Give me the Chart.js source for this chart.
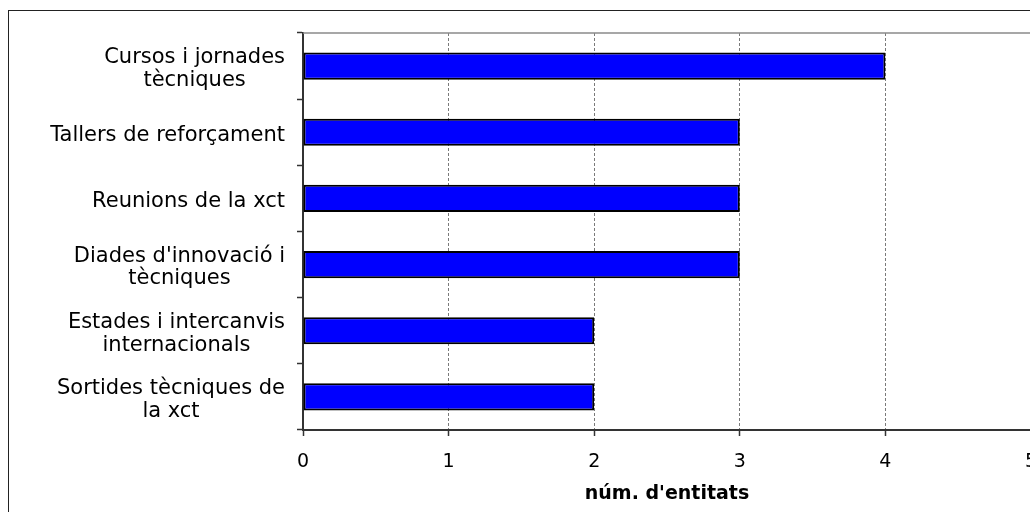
<!DOCTYPE html>
<html>
<head>
<meta charset="utf-8">
<script src="https://cdn.jsdelivr.net/npm/chart.js@4/dist/chart.umd.min.js"></script>
<style>
    html, body { margin: 0; padding: 0; background: #fff; overflow: hidden; }
    #frame {
        position: absolute;
        left: 8px;
        top: 10px;
        width: 1100px;
        height: 540px;
        border: 1px solid #222;
        background: #fff;
    }
    #entitatsChart { display: block; }
</style>
</head>
<body>
<div id="frame">
    <canvas id="entitatsChart" width="1060" height="520"></canvas>
</div>
<script>
// Activitats (each label split into the lines it is drawn on)
const categories = [
    ["Cursos i jornades", "tècniques"],
    ["Tallers de reforçament"],
    ["Reunions de la xct"],
    ["Diades d'innovació i", "tècniques"],
    ["Estades i intercanvis", "internacionals"],
    ["Sortides tècniques de", "la xct"]
];
const entitats = [4, 3, 3, 3, 2, 2];
const xTicks = [0, 1, 2, 3, 4, 5];
const xTitle = "núm. d'entitats";

const FONT = "'DejaVu Sans', Verdana, sans-serif";

// Category labels: block right aligned against the axis, lines centred inside the block
const categoryLabels = {
    id: 'categoryLabels',
    afterDraw(chart) {
        const ctx = chart.ctx;
        const yScale = chart.scales.y;
        const rightX = chart.chartArea.left - 18;
        const lineHeight = 22.5;

        ctx.save();
        ctx.font = "21px " + FONT;
        ctx.fillStyle = "#000";
        ctx.textAlign = "center";
        ctx.textBaseline = "alphabetic";

        categories.forEach((lines, i) => {
            const blockWidth = Math.max(...lines.map(l => ctx.measureText(l).width));
            const cx = rightX - blockWidth / 2;
            const cy = yScale.getPixelForValue(i);
            lines.forEach((line, j) => {
                const ty = cy + (j - (lines.length - 1) / 2) * lineHeight + 8.5;
                ctx.fillText(line, cx, ty);
            });
        });
        ctx.restore();
    }
};

// Thin grey line closing the top of the plot area
const plotTop = {
    id: 'plotTop',
    beforeDatasetsDraw(chart) {
        const { ctx, chartArea } = chart;
        ctx.save();
        ctx.strokeStyle = "#8a8a8a";
        ctx.lineWidth = 1.5;
        ctx.beginPath();
        ctx.moveTo(chartArea.left, chartArea.top);
        ctx.lineTo(chartArea.right, chartArea.top);
        ctx.stroke();
        ctx.restore();
    }
};

const ctx = document.getElementById('entitatsChart').getContext('2d');

new Chart(ctx, {
    type: 'bar',
    data: {
        labels: categories.map(c => c.join(' ')),
        datasets: [{
            data: entitats,
            backgroundColor: '#0000ff',
            borderColor: '#000000',
            borderWidth: 2,
            borderSkipped: false,
            barPercentage: 0.41,
            categoryPercentage: 1.0
        }]
    },
    options: {
        indexAxis: 'y',
        responsive: false,
        animation: false,
        devicePixelRatio: 1,
        layout: {
            padding: { left: 0, top: 22, right: 38, bottom: 21 }
        },
        plugins: {
            legend: { display: false },
            tooltip: { enabled: false }
        },
        scales: {
            x: {
                type: 'linear',
                min: xTicks[0],
                max: xTicks[xTicks.length - 1],
                afterBuildTicks: scale => {
                    scale.ticks = xTicks.map(v => ({ value: v }));
                },
                afterFit: scale => { scale.height = 80; },
                ticks: {
                    color: '#000',
                    font: { family: FONT, size: 19 },
                    padding: 15
                },
                grid: {
                    color: '#7a7a7a',
                    lineWidth: 1,
                    tickLength: 6,
                    tickColor: '#333',
                    tickWidth: 1.5
                },
                border: {
                    color: '#333',
                    width: 2,
                    dash: [3, 2]
                },
                title: {
                    display: true,
                    text: xTitle,
                    color: '#000',
                    font: { family: FONT, size: 19, weight: 'bold' },
                    padding: { top: 4, bottom: 5 }
                }
            },
            y: {
                type: 'category',
                offset: true,
                afterFit: scale => { scale.width = 294; },
                ticks: { display: false },
                grid: {
                    offset: true,
                    drawOnChartArea: false,
                    tickLength: 6,
                    tickColor: '#333',
                    tickWidth: 1.5
                },
                border: {
                    color: '#333',
                    width: 2
                }
            }
        }
    },
    plugins: [plotTop, categoryLabels]
});
</script>
</body>
</html>
